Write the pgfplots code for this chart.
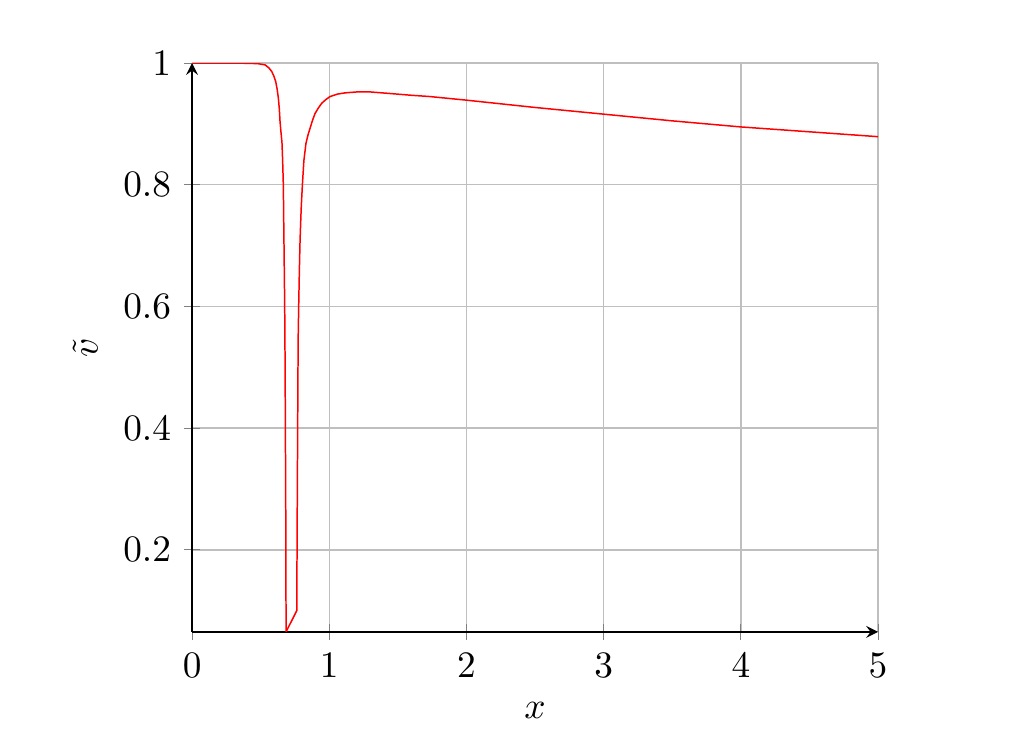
\documentclass[border=0pt]{standalone}
\usepackage{pgfplots}
\pgfplotsset{compat=1.18}

\begin{document}
\begin{tikzpicture}
\begin{axis}[
  at={(0,0)}, anchor=south west,
  scale only axis,
  width=183.9pt,
  height=152.5pt,
  axis lines=left,
  grid=major,
  xmin=0, xmax=5,
  ymin=0.065, ymax=1,
  xtick={0,1,2,3,4,5},
  ytick={0.2,0.4,0.6,0.8,1},
  xlabel={$x$},
  ylabel={$\tilde{v}$},
]
\addplot[red, sharp plot] coordinates {
  (0,1) (0.3,1) (0.42,0.9995) (0.48,0.999) (0.532,0.997) (0.56,0.992)
  (0.581,0.986) (0.597,0.978) (0.610,0.969) (0.620,0.957) (0.629,0.942)
  (0.636,0.924) (0.641,0.904) (0.648,0.886) (0.655,0.870) (0.660,0.84)
  (0.665,0.80) (0.670,0.70) (0.675,0.60) (0.678,0.50) (0.680,0.40)
  (0.683,0.25) (0.685,0.065)
  (0.763,0.100)
  (0.766,0.25) (0.770,0.42) (0.773,0.545) (0.777,0.60) (0.782,0.66)
  (0.787,0.709) (0.795,0.76) (0.804,0.80) (0.815,0.84) (0.830,0.868)
  (0.845,0.882) (0.860,0.893) (0.878,0.906) (0.896,0.917) (0.92,0.926)
  (0.945,0.934) (0.975,0.940) (1.006,0.945) (1.06,0.949) (1.115,0.951)
  (1.2,0.9525) (1.3,0.9525) (1.44,0.950) (1.6,0.947) (1.73,0.945)
  (2.0,0.939) (2.5,0.927) (3.0,0.916) (3.5,0.905) (4.0,0.895)
  (4.5,0.887) (5,0.879)
};
\end{axis}
\path[use as bounding box] (-51.5pt,-30pt) rectangle (224.1pt,169.4pt);
\end{tikzpicture}
\end{document}
